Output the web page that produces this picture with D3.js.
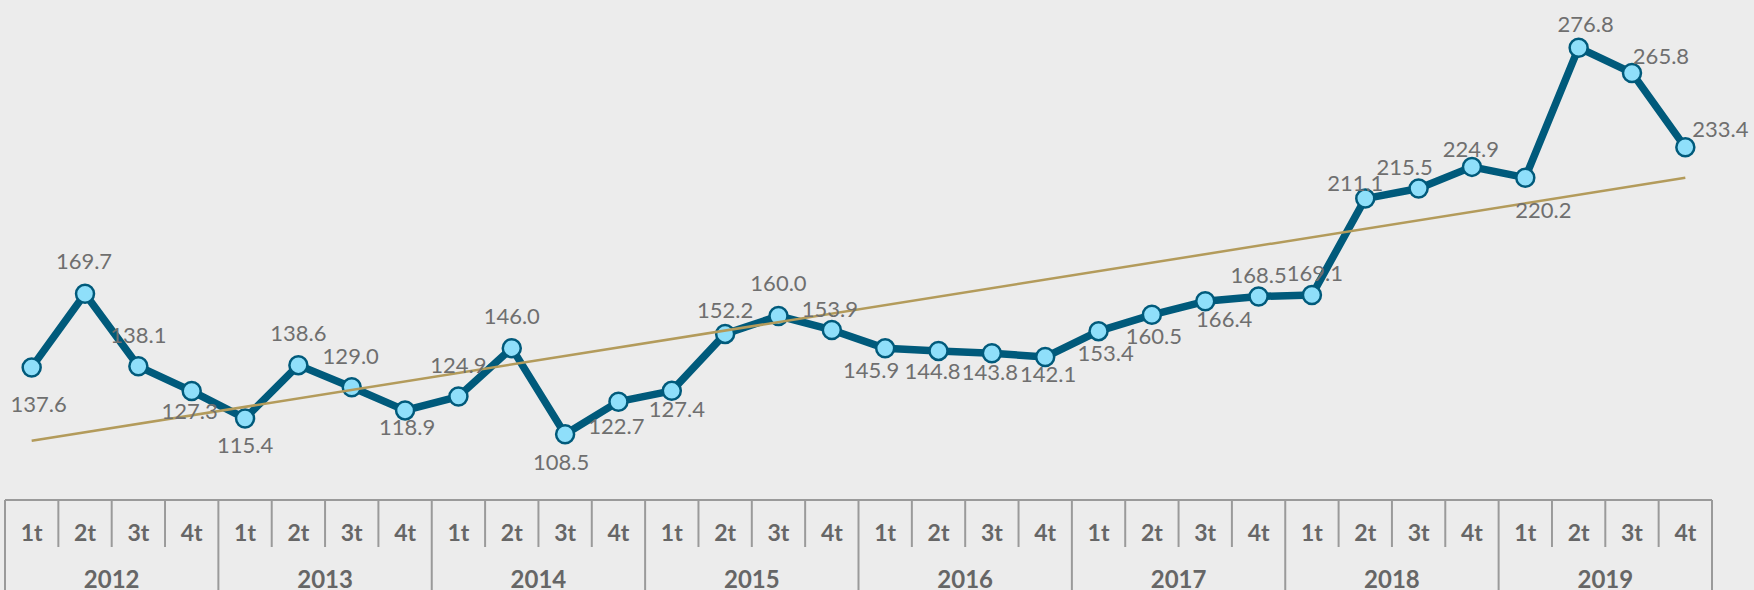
<!DOCTYPE html>
<html>
<head>
<meta charset="utf-8">
<script src="https://cdn.jsdelivr.net/npm/d3@7"></script>
<style>
  html, body { margin: 0; padding: 0; background: #ececec; }
  svg { display: block; }
  .value { font-family: Lato, "Noto Sans", sans-serif; font-size: 22px; fill: #6f6f6f; }
  .axis_label { font-family: Lato, "Noto Sans", sans-serif; font-weight: bold; fill: #666; }
</style>
</head>
<body>
<div id="chart"></div>
<script>
"use strict";

var years = ["2012", "2013", "2014", "2015", "2016", "2017", "2018", "2019"];
var quarters = ["1t", "2t", "3t", "4t"];
var values = [
  137.6, 169.7, 138.1, 127.3,
  115.4, 138.6, 129.0, 118.9,
  124.9, 146.0, 108.5, 122.7,
  127.4, 152.2, 160.0, 153.9,
  145.9, 144.8, 143.8, 142.1,
  153.4, 160.5, 166.4, 168.5,
  169.1, 211.1, 215.5, 224.9,
  220.2, 276.8, 265.8, 233.4
];

// where each value label sits, relative to its point (dx, dy of the text centre)
var labelOffsets = [
  [7, 36], [-1, -33], [0, -32], [-2, 19],
  [0, 26], [0, -33], [-1, -32], [2, 16],
  [0, -32], [0, -33], [-4, 27], [-2, 24],
  [5, 18], [0, -24], [0, -33], [-2, -21],
  [-14, 21], [-6, 20], [-2, 18], [3, 16],
  [7, 21], [2, 21], [19, 17], [0, -22],
  [3, -23], [-10, -16], [-14, -22], [-1, -18],
  [18, 32], [7, -24], [29, -17], [35, -19]
];

var width = 1754,
  height = 590,
  tableTop = 500,
  tableLeft = 5,
  tableRight = 1712;

var data = values.map(function (v, i) {
  return {i: i, value: v, year: years[Math.floor(i / 4)], quarter: quarters[i % 4]};
});

var xScale = d3.scaleBand()
  .domain(d3.range(values.length))
  .range([tableLeft, tableRight])
  .paddingInner(0)
  .paddingOuter(0);

var bw = xScale.bandwidth();
function X(d) { return xScale(d.i) + bw / 2; }

var yScale = d3.scaleLinear()
  .domain([100, 280])
  .range([453.8, 40.3]);
function Y(d) { return yScale(d.value); }

// linear trend (least squares) over the quarters
var n = values.length,
  meanX = (n - 1) / 2,
  meanY = d3.mean(values),
  sxy = d3.sum(data, function (d) { return (d.i - meanX) * (d.value - meanY); }),
  sxx = d3.sum(data, function (d) { return (d.i - meanX) * (d.i - meanX); }),
  slope = sxy / sxx,
  intercept = meanY - slope * meanX;
var trend = [0, n - 1].map(function (i) {
  return {i: i, value: intercept + slope * i};
});

var svg = d3.select("#chart").append("svg")
  .attr("width", width)
  .attr("height", height);

svg.append("rect")
  .attr("width", width)
  .attr("height", height)
  .attr("fill", "#ececec");

// Series line
var line = d3.line().x(X).y(Y);

svg.append("path")
  .datum(data)
  .attr("d", line)
  .attr("fill", "none")
  .attr("stroke", "#005a7b")
  .attr("stroke-width", 7.5)
  .attr("stroke-linejoin", "round");

svg.selectAll("circle.point")
  .data(data)
  .enter()
  .append("circle")
  .attr("class", "point")
  .attr("cx", X)
  .attr("cy", Y)
  .attr("r", 9)
  .attr("fill", "#8fdffa")
  .attr("stroke", "#005a7b")
  .attr("stroke-width", 2.5);

// Trend line, drawn over the series
svg.append("path")
  .datum(trend)
  .attr("d", line)
  .attr("fill", "none")
  .attr("stroke", "#b39b5b")
  .attr("stroke-width", 2.5);

svg.selectAll("text.value")
  .data(data)
  .enter()
  .append("text")
  .attr("class", "value")
  .attr("x", function (d) { return X(d) + labelOffsets[d.i][0]; })
  .attr("y", function (d) { return Y(d) + labelOffsets[d.i][1]; })
  .attr("text-anchor", "middle")
  .attr("dominant-baseline", "central")
  .text(function (d) { return d.value.toFixed(1); });

// Category table under the chart
var table = svg.append("g")
  .attr("stroke", "#9a9a9a")
  .attr("stroke-width", 2);

table.append("line")
  .attr("x1", tableLeft).attr("x2", tableRight)
  .attr("y1", tableTop).attr("y2", tableTop);

table.selectAll("line.qdiv")
  .data(data.filter(function (d) { return d.i % 4 !== 0; }))
  .enter()
  .append("line")
  .attr("class", "qdiv")
  .attr("x1", function (d) { return xScale(d.i); })
  .attr("x2", function (d) { return xScale(d.i); })
  .attr("y1", tableTop)
  .attr("y2", 547);

var yearEdges = d3.range(years.length + 1).map(function (k) { return k * 4; });
table.selectAll("line.ydiv")
  .data(yearEdges)
  .enter()
  .append("line")
  .attr("class", "ydiv")
  .attr("x1", function (k) { return k < n ? xScale(k) : tableRight; })
  .attr("x2", function (k) { return k < n ? xScale(k) : tableRight; })
  .attr("y1", tableTop)
  .attr("y2", height);

svg.selectAll("text.quarter")
  .data(data)
  .enter()
  .append("text")
  .attr("class", "axis_label quarter")
  .attr("x", X)
  .attr("y", 532)
  .attr("text-anchor", "middle")
  .attr("dominant-baseline", "central")
  .style("font-size", "23px")
  .text(function (d) { return d.quarter; });

svg.selectAll("text.year")
  .data(years)
  .enter()
  .append("text")
  .attr("class", "axis_label year")
  .attr("x", function (y, k) { return xScale(k * 4) + bw * 2; })
  .attr("y", 578)
  .attr("text-anchor", "middle")
  .attr("dominant-baseline", "central")
  .style("font-size", "24px")
  .text(function (y) { return y; });
</script>
</body>
</html>
